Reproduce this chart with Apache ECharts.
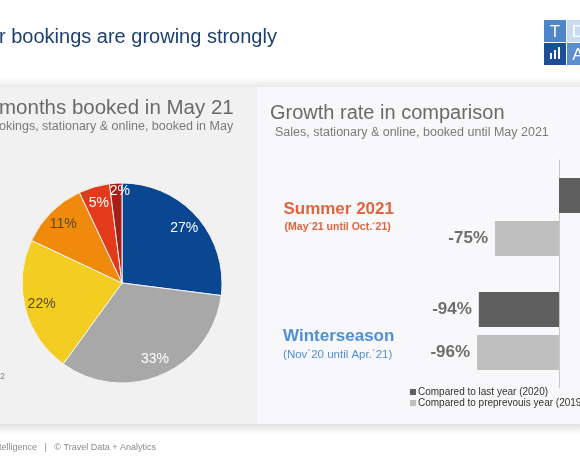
<!DOCTYPE html>
<html>
<head>
<meta charset="utf-8">
<script src="https://cdn.jsdelivr.net/npm/echarts@6/dist/echarts.min.js"></script>
<style>
  html, body { margin: 0; padding: 0; background: #fff; }
  #main { width: 580px; height: 460px; }
</style>
</head>
<body>
<div id="main"></div>
<script>
var chart = echarts.init(document.getElementById('main'));

// pie: share of months booked
var pieNames = ['A', 'B', 'C', 'D', 'E', 'F'];
var pieValues = [27, 33, 22, 11, 5, 2];
var pieColors = ['#0b4790', '#a8a8a8', '#f3cd22', '#ef8a0c', '#e33a1c', '#a51f16'];
var pieLabelColors = ['#fff', '#fff', '#5a4a26', '#5a4a26', '#fff', '#fff'];

// bars: growth rate
var seasons = ['Summer 2021', 'Winterseason'];
var seasonNotes = ['(May´21 until Oct.´21)', '(Nov´20 until Apr.´21)'];
var lastYear = [45, -94];
var prePrevYear = [-75, -96];
var seriesNames = ['Compared to last year (2020)', 'Compared to preprevouis year (2019)'];

var font = '"Liberation Sans", Arial, sans-serif';

var pieData = pieNames.map(function (n, i) {
    return { name: n, value: pieValues[i], itemStyle: { color: pieColors[i] } };
});
var pieLabelData = pieNames.map(function (n, i) {
    var d = { name: n, value: pieValues[i], label: { color: pieLabelColors[i] } };
    // the smallest slice has its label pushed toward the rim
    if (i === pieNames.length - 1) d.label.offset = [3, -9];
    return d;
});

// labels sit on the outer end of each bar
function barData(values) {
    return values.map(function (v) {
        return { value: v, label: { position: v < 0 ? 'left' : 'right' } };
    });
}

var barLabel = { show: true, distance: 7, formatter: '{c}%', fontSize: 17, fontWeight: 'bold', color: '#6d6d6d' };

var option = {
    animation: false,
    textStyle: { fontFamily: font },
    graphic: [
        // panels and shadows
        { type: 'rect', shape: { x: 0, y: 78, width: 580, height: 12 }, style: { fill: new echarts.graphic.LinearGradient(0, 0, 0, 1, [{ offset: 0, color: '#ffffff' }, { offset: 1, color: '#e2e2e2' }]) }, z: -10 },
        { type: 'rect', shape: { x: 0, y: 87, width: 257, height: 337 }, style: { fill: '#f1f1f1' }, z: -9 },
        { type: 'rect', shape: { x: 257, y: 87, width: 323, height: 337 }, style: { fill: '#f8f7f9' }, z: -9 },
        { type: 'rect', shape: { x: 0, y: 424, width: 580, height: 10 }, style: { fill: new echarts.graphic.LinearGradient(0, 0, 0, 1, [{ offset: 0, color: '#e3e3e3' }, { offset: 1, color: '#ffffff' }]) }, z: -10 },
        // header
        { type: 'text', x: -1, y: 37, style: { text: 'r bookings are growing strongly', font: '20px ' + font, fill: '#1d3f72', verticalAlign: 'middle' } },
        // logo
        { type: 'rect', shape: { x: 544, y: 20, width: 22, height: 22 }, style: { fill: '#4f86c9' } },
        { type: 'rect', shape: { x: 567, y: 20, width: 22, height: 22 }, style: { fill: '#c9dbef' } },
        { type: 'rect', shape: { x: 544, y: 43, width: 22, height: 22 }, style: { fill: '#1b4e94' } },
        { type: 'rect', shape: { x: 567, y: 43, width: 22, height: 22 }, style: { fill: '#5b8fd0' } },
        { type: 'text', x: 555, y: 32, style: { text: 'T', font: '17px ' + font, fill: '#fff', align: 'center', verticalAlign: 'middle' } },
        { type: 'text', x: 578, y: 32, style: { text: 'D', font: '17px ' + font, fill: '#fff', align: 'center', verticalAlign: 'middle' } },
        { type: 'text', x: 578, y: 55, style: { text: 'A', font: '17px ' + font, fill: '#fff', align: 'center', verticalAlign: 'middle' } },
        { type: 'rect', shape: { x: 550, y: 53, width: 2, height: 6 }, style: { fill: '#fff' } },
        { type: 'rect', shape: { x: 554, y: 50, width: 2, height: 9 }, style: { fill: '#fff' } },
        { type: 'rect', shape: { x: 558, y: 47, width: 2, height: 12 }, style: { fill: '#fff' } },
        // left panel titles
        { type: 'text', x: -1, y: 108, style: { text: 'months booked in May 21', font: '20.5px ' + font, fill: '#6a6a6a', verticalAlign: 'middle' } },
        { type: 'text', x: -1, y: 127, style: { text: 'okings, stationary & online, booked in May', font: '12.5px ' + font, fill: '#7a7a7a', verticalAlign: 'middle' } },
        { type: 'text', x: 0, y: 377, style: { text: '2', font: '9px ' + font, fill: '#888', verticalAlign: 'middle' } },
        // right panel titles
        { type: 'text', x: 270, y: 113, style: { text: 'Growth rate in comparison', font: '20px ' + font, fill: '#6a6a6a', verticalAlign: 'middle' } },
        { type: 'text', x: 275, y: 133, style: { text: 'Sales, stationary & online, booked until May 2021', font: '12.5px ' + font, fill: '#7a7a7a', verticalAlign: 'middle' } },
        // footer
        { type: 'text', x: -1, y: 448, style: { text: 'telligence   |   © Travel Data + Analytics', font: '9px ' + font, fill: '#8a8a8a', verticalAlign: 'middle' } }
    ],
    legend: {
        orient: 'vertical',
        left: 410,
        top: 387,
        padding: 0,
        itemGap: 1,
        itemWidth: 6,
        itemHeight: 6,
        icon: 'rect',
        textStyle: { fontSize: 10, color: '#333', padding: [0, 0, 0, -3] },
        data: seriesNames
    },
    grid: { left: 473.7, width: 170.6, top: 160, height: 228, outerBoundsMode: 'none' },
    xAxis: { type: 'value', min: -100, max: 100, show: false },
    yAxis: {
        type: 'category',
        inverse: true,
        data: seasons,
        axisLine: { onZero: true, lineStyle: { color: '#c8c8c8' } },
        axisTick: { length: 5, lineStyle: { color: '#c8c8c8' } },
        axisLabel: {
            margin: 135,
            align: 'center',
            formatter: function (v, i) {
                if (i === 0) return '{a|' + v + '}\n{an|' + seasonNotes[0] + '}';
                return '{sp|}\n{b|' + v + '}\n{bn|' + seasonNotes[1] + '}';
            },
            rich: {
                a: { fontSize: 17, fontWeight: 'bold', color: '#e0653e', width: 117, align: 'center', lineHeight: 20 },
                an: { fontSize: 10.5, fontWeight: 'bold', color: '#e0653e', width: 117, align: 'center', lineHeight: 15, padding: [0, 2, 0, 0] },
                sp: { fontSize: 9, lineHeight: 28, width: 117 },
                b: { fontSize: 17, fontWeight: 'bold', color: '#4f8fd6', width: 117, align: 'center', lineHeight: 20 },
                bn: { fontSize: 11.5, color: '#4f8fd6', width: 117, align: 'center', lineHeight: 18, padding: [0, 2, 0, 0] }
            }
        }
    },
    series: [
        {
            type: 'pie',
            center: [122, 283],
            radius: [0, 100],
            startAngle: 90,
            clockwise: true,
            silent: true,
            label: { show: false },
            labelLine: { show: false },
            itemStyle: { borderColor: '#f4f4f4', borderWidth: 1 },
            data: pieData
        },
        {
            type: 'pie',
            center: [122, 283],
            radius: [60, 100],
            startAngle: 90,
            clockwise: true,
            silent: true,
            avoidLabelOverlap: false,
            itemStyle: { color: 'rgba(0,0,0,0)' },
            label: { show: true, position: 'inside', formatter: '{c}%', fontSize: 14, fontFamily: font },
            labelLine: { show: false },
            labelLayout: { hideOverlap: false },
            data: pieLabelData
        },
        {
            name: seriesNames[0],
            type: 'bar',
            barWidth: 35,
            barGap: '23%',
            itemStyle: { color: '#5f5f5f' },
            label: barLabel,
            data: barData(lastYear)
        },
        {
            name: seriesNames[1],
            type: 'bar',
            barWidth: 35,
            itemStyle: { color: '#bfbfbf' },
            label: barLabel,
            data: barData(prePrevYear)
        }
    ]
};
chart.setOption(option);
</script>
</body>
</html>
